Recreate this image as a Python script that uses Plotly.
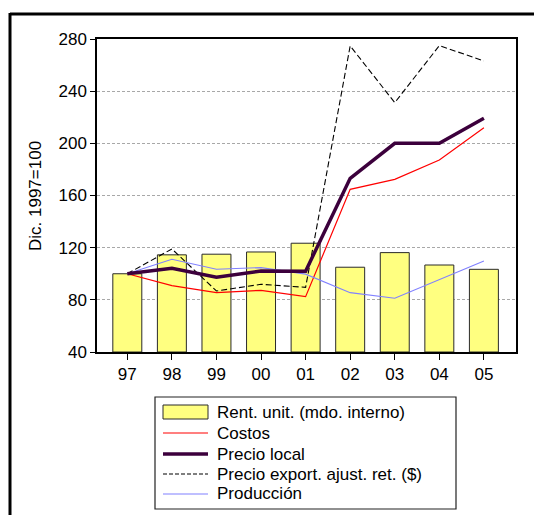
import plotly.graph_objects as go

# Years (two-digit labels) and index series, Dec 1997 = 100
years = ["97", "98", "99", "00", "01", "02", "03", "04", "05"]
rent_unit = [100, 114.5, 115, 116.7, 123.4, 105, 116.2, 106.7, 103.4]
costos = [100, 90.9, 85.5, 87.3, 82.4, 164.7, 172.4, 187.2, 212]
precio_local = [100, 104.2, 97.3, 102.1, 102, 173.2, 200, 200, 219.2]
precio_export = [100, 119, 86.8, 91.9, 89.6, 274.7, 231.2, 274.9, 263.2]
produccion = [100, 111.1, 103.4, 104.7, 99.7, 85.5, 81.2, 95.6, 109.8]

y_ticks = [40, 80, 120, 160, 200, 240, 280]

W, H = 534, 515
L, R, T, B = 97, 516, 39, 352  # plot area in pixels

def px(x):
    return (x - L) / (R - L)

def py(y):
    return (B - y) / (B - T)

xs = list(range(len(years)))
FONT = "Liberation Sans, Arial, sans-serif"
FS = 17

fig = go.Figure()
fig.add_trace(go.Bar(x=xs, y=[v - 40 for v in rent_unit], base=40, width=0.65,
                     marker=dict(color="#FFFF80", line=dict(color="#2a2a2a", width=1)),
                     name="Rent. unit. (mdo. interno)", showlegend=False))
fig.add_trace(go.Scatter(x=xs, y=costos, mode="lines", line=dict(color="#FF0000", width=1.2),
                         name="Costos", showlegend=False))
fig.add_trace(go.Scatter(x=xs, y=precio_export, mode="lines",
                         line=dict(color="#000000", width=1.1, dash="6px,3px"),
                         name="Precio export. ajust. ret. ($)", showlegend=False))
fig.add_trace(go.Scatter(x=xs, y=produccion, mode="lines", line=dict(color="#8080FF", width=1.1),
                         name="Producción", showlegend=False))
fig.add_trace(go.Scatter(x=xs, y=precio_local, mode="lines", line=dict(color="#3C003C", width=3.5),
                         name="Precio local", showlegend=False))

shapes = []
annotations = []

# outer frame (top and left edges)
shapes.append(dict(type="line", xref="paper", yref="paper", x0=px(10), x1=px(534), y0=py(14), y1=py(14),
                   line=dict(color="black", width=3)))
shapes.append(dict(type="line", xref="paper", yref="paper", x0=px(10), x1=px(10), y0=py(13), y1=py(515),
                   line=dict(color="black", width=3)))

# legend box
shapes.append(dict(type="rect", xref="paper", yref="paper", x0=px(155), x1=px(456), y0=py(397), y1=py(509),
                   line=dict(color="#222", width=1.2), fillcolor="white"))
legend_rows = [
    ("Rent. unit. (mdo. interno)", "bar", None),
    ("Costos", "line", dict(color="#FF0000", width=1.2)),
    ("Precio local", "line", dict(color="#3C003C", width=3.5)),
    ("Precio export. ajust. ret. ($)", "line", dict(color="#000000", width=1.1, dash="4px,2px")),
    ("Producción", "line", dict(color="#8080FF", width=1.1)),
]
row_y = [412, 433, 454, 474, 494]
for (label, kind, ln), yc in zip(legend_rows, row_y):
    if kind == "bar":
        shapes.append(dict(type="rect", xref="paper", yref="paper", x0=px(163), x1=px(208),
                           y0=py(yc - 7), y1=py(yc + 7), fillcolor="#FFFF80",
                           line=dict(color="#2a2a2a", width=1)))
    else:
        shapes.append(dict(type="line", xref="paper", yref="paper", x0=px(163), x1=px(208),
                           y0=py(yc), y1=py(yc), line=ln))
    annotations.append(dict(text=label, xref="paper", yref="paper", x=px(215), y=py(yc),
                            xanchor="left", yanchor="middle", showarrow=False,
                            font=dict(family=FONT, size=FS, color="black")))

# y-axis title
annotations.append(dict(text="Dic. 1997=100", xref="paper", yref="paper", x=px(35), y=py(196),
                        xanchor="center", yanchor="middle", textangle=-90, showarrow=False,
                        font=dict(family=FONT, size=FS, color="black")))

fig.update_layout(
    width=W, height=H,
    margin=dict(l=L, r=W - R, t=T, b=H - B),
    paper_bgcolor="white", plot_bgcolor="white",
    font=dict(family=FONT, size=FS, color="black"),
    shapes=shapes, annotations=annotations,
    showlegend=False,
    xaxis=dict(range=[-0.68, 8.72], tickvals=xs, ticktext=years, ticks="outside", ticklen=6,
               tickcolor="black", showgrid=False, showline=True, linecolor="black", linewidth=1.5,
               mirror=True, zeroline=False, tickfont=dict(size=FS)),
    yaxis=dict(range=[40, 280], tickvals=y_ticks, ticks="outside", ticklen=5, tickcolor="black",
               showgrid=True, gridcolor="#a8a8a8", griddash="3px,2px", gridwidth=1,
               showline=True, linecolor="black", linewidth=1.5, mirror=True, zeroline=False,
               tickfont=dict(size=FS)),
)

fig.write_html("out.html")
